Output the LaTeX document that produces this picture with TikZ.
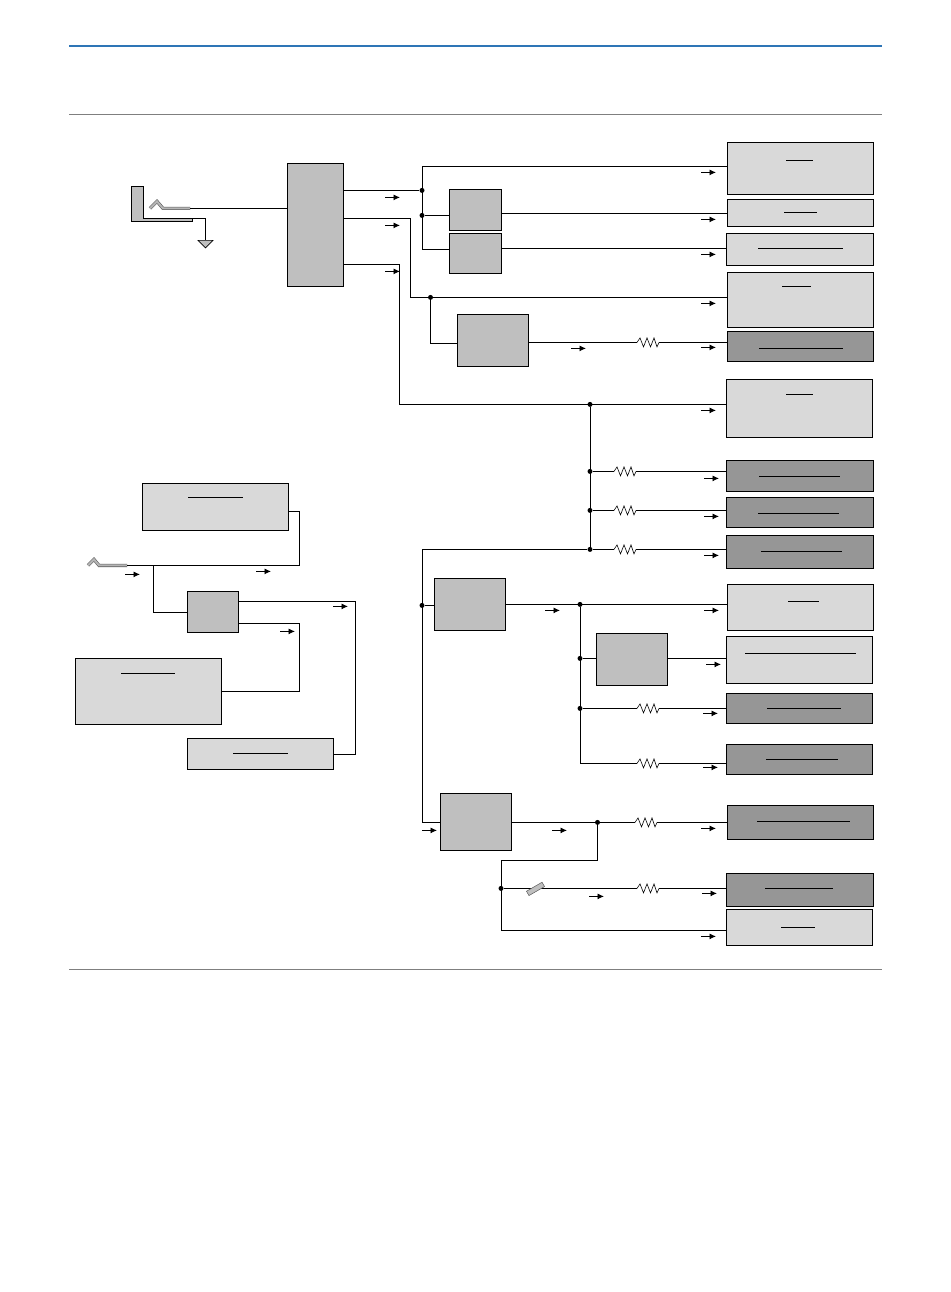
\documentclass[tikz,border=0pt]{standalone}
\usepackage{xcolor}
\usetikzlibrary{arrows.meta, calc}
\definecolor{softlight}{HTML}{D9D9D9}
\definecolor{softmid}{HTML}{BFBFBF}
\definecolor{softdark}{HTML}{969696}
\definecolor{headblue}{HTML}{2E75B6}
\definecolor{rulegray}{HTML}{7F7F7F}

\begin{document}
\begin{tikzpicture}[
  x=1pt, y=-1pt,
  lightbox/.style={draw=black, fill=softlight, line width=1pt, inner sep=0pt, outer sep=0pt},
  midbox/.style={draw=black, fill=softmid, line width=1pt, inner sep=0pt, outer sep=0pt},
  darkbox/.style={draw=black, fill=softdark, line width=1pt, inner sep=0pt, outer sep=0pt},
  wire/.style={draw=black, line width=1pt},
  redact/.style={draw=black, line width=0.9pt},
  flow/.style={-{Latex[length=6.5pt,width=6pt]}, black, line width=0.9pt},
  junction/.style={circle, fill=black, inner sep=0pt, minimum size=5pt},
  lead/.style={draw=softdark!60!black, double=softdark!70!white, double distance=2pt, line width=0.6pt, line join=miter},
  res/.pic={
    \draw[black, line width=0.6pt] (-11,0) -- (-8,-4.5) -- (-4.5,4.5) -- (-1,-4.5) -- (2.5,4.5) -- (6,-4.5) -- (9,4.5) -- (11,0);
    \coordinate (-w) at (-11,0);
    \coordinate (-e) at (11,0);
  }
]
\useasboundingbox (0,-0.4) rectangle (950,1291.6);

% header and frame lines
\draw[headblue, line width=2pt] (69,46) -- (882,46);
\draw[rulegray, line width=1pt] (69,114) -- (882,114);
\draw[rulegray, line width=1pt] (69,969) -- (882,969);

% load boxes
\node[lightbox, minimum width=146pt, minimum height=52pt] (load1) at (800,168) {};
\node[lightbox, minimum width=146pt, minimum height=27pt] (load2) at (800,212.5) {};
\node[lightbox, minimum width=147pt, minimum height=32pt] (load3) at (799.5,249) {};
\node[lightbox, minimum width=146pt, minimum height=55pt] (load4) at (800,299.5) {};
\node[darkbox, minimum width=146pt, minimum height=30pt] (load5) at (800,346) {};
\node[lightbox, minimum width=146pt, minimum height=58pt] (load6) at (799,408) {};
\node[darkbox, minimum width=147pt, minimum height=31pt] (load7) at (799.5,475.5) {};
\node[darkbox, minimum width=147pt, minimum height=30pt] (load8) at (799.5,512) {};
\node[darkbox, minimum width=147pt, minimum height=33pt] (load9) at (799.5,551.5) {};
\node[lightbox, minimum width=146pt, minimum height=46pt] (load10) at (800,607) {};
\node[lightbox, minimum width=146pt, minimum height=47pt] (load11) at (799,659.5) {};
\node[darkbox, minimum width=146pt, minimum height=30pt] (load12) at (799,708) {};
\node[darkbox, minimum width=146pt, minimum height=30pt] (load13) at (799,759) {};
\node[darkbox, minimum width=146pt, minimum height=34pt] (load14) at (800,822) {};
\node[darkbox, minimum width=147pt, minimum height=33pt] (load15) at (799.5,889.5) {};
\node[lightbox, minimum width=146pt, minimum height=36pt] (load16) at (799,927) {};

% supply boxes on the left
\node[lightbox, minimum width=146pt, minimum height=47pt] (cell) at (215,506.5) {};
\node[lightbox, minimum width=146pt, minimum height=66pt] (panel) at (148,691) {};
\node[lightbox, minimum width=146pt, minimum height=31pt] (spare) at (260,753.5) {};

% regulators
\node[midbox, minimum width=56pt, minimum height=123pt] (main) at (315,224.5) {};
\node[midbox, minimum width=52pt, minimum height=41pt] (rega) at (475,209.5) {};
\node[midbox, minimum width=52pt, minimum height=40pt] (regb) at (475,253) {};
\node[midbox, minimum width=71pt, minimum height=52pt] (regc) at (492.5,340) {};
\node[midbox, minimum width=71pt, minimum height=52pt] (regd) at (469.5,604) {};
\node[midbox, minimum width=71pt, minimum height=52pt] (rege) at (631.5,659) {};
\node[midbox, minimum width=71pt, minimum height=57pt] (regf) at (475.5,821.5) {};
\node[midbox, minimum width=51pt, minimum height=41pt] (charger) at (212.5,611.5) {};

% bars inside the boxes
\draw[redact] (786,160) -- (813,160);
\draw[redact] (784,212) -- (817,212);
\draw[redact] (758,248) -- (843,248);
\draw[redact] (782,286) -- (811,286);
\draw[redact] (759,348) -- (843,348);
\draw[redact] (786,394) -- (813,394);
\draw[redact] (759,476) -- (840,476);
\draw[redact] (758,513) -- (839,513);
\draw[redact] (761,551) -- (842,551);
\draw[redact] (788,601) -- (819,601);
\draw[redact] (745,653) -- (856,653);
\draw[redact] (767,708) -- (841,708);
\draw[redact] (766,759) -- (838,759);
\draw[redact] (757,821) -- (850,821);
\draw[redact] (765,888) -- (833,888);
\draw[redact] (781,927) -- (815,927);
\draw[redact] (188,497) -- (243,497);
\draw[redact] (121,673) -- (175,673);
\draw[redact] (233,753) -- (288,753);

% junctions
\node[junction] (j1) at (422,190) {};
\node[junction] (j2) at (422,215) {};
\node[junction] (j3) at (430.5,297) {};
\node[junction] (j4) at (590,404) {};
\node[junction] (j5) at (590,471) {};
\node[junction] (j6) at (590,510) {};
\node[junction] (j7) at (590,549) {};
\node[junction] (j8) at (422,605) {};
\node[junction] (j9) at (580,604) {};
\node[junction] (j10) at (580,658) {};
\node[junction] (j11) at (580,708) {};
\node[junction] (j12) at (597.5,822) {};
\node[junction] (j13) at (501,888) {};

% resistors
\pic (r1) at (625,471) {res};
\pic (r2) at (625,510) {res};
\pic (r3) at (625,549) {res};
\pic (r4) at (648,342) {res};
\pic (r5) at (648,708) {res};
\pic (r6) at (648,763) {res};
\pic (r7) at (646,822) {res};
\pic (r8) at (648,888) {res};

% switch
\coordinate (swa) at (524,888);
\coordinate (swb) at (547,888);

% bend points
\coordinate (b1) at (422,166);
\coordinate (b2) at (422,249);
\coordinate (b3) at (410.5,297);
\coordinate (b4) at (430.5,343);
\coordinate (b5) at (399.6,404);
\coordinate (b6) at (422,549);
\coordinate (b7) at (422,822);
\coordinate (b8) at (580,763);
\coordinate (b9) at (597.5,860);
\coordinate (b10) at (501,860);
\coordinate (b11) at (501,930);
\coordinate (b12) at (153,565);
\coordinate (b13) at (153,612);
\coordinate (b14) at (299,565);
\coordinate (b15) at (299,511);
\coordinate (b16) at (355,601);
\coordinate (b17) at (355,754);
\coordinate (b18) at (299,623);
\coordinate (b19) at (299,691);

% sources
\coordinate (tipa) at (190,208);
\coordinate (tipb) at (127,565);
\coordinate (earth) at (205.5,240);
\coordinate (bracket) at (192,218);
\draw[midbox] (131,186) -- (143,186) -- (143,218) -- (192,218) -- (192,221) -- (131,221) -- cycle;
\draw[lead] (tipa) -- ++(-27,0) -- ++(-6,-7) -- ++(-7,7);
\draw[lead] (tipb) -- ++(-28,0) -- ++(-5,-6) -- ++(-6,6);
\draw[fill=softmid, line width=0.6pt] (earth) ++(-7.5,0) -- ++(15,0) -- ++(-7.5,7.5) -- cycle;

% main wires
\draw[wire] (tipa) -- (main.west |- tipa);
\draw[wire] (bracket) -| (earth);
\draw[wire] (main.east |- j1) -- (j1);
\draw[wire] (load1.west |- b1) -- (b1) -- (b2) -- (regb.west |- b2);
\draw[wire] (j2) -- (rega.west |- j2);
\draw[wire] (rega.east |- 0,213) -- (load2.west |- 0,213);
\draw[wire] (regb.east |- 0,248) -- (load3.west |- 0,248);
\draw[wire] (main.east |- 0,218) -| (b3) -- (load4.west |- b3);
\draw[wire] (j3) -- (b4) -- (regc.west |- b4);
\draw[wire] (regc.east |- r4-w) -- (r4-w);
\draw[wire] (r4-e) -- (load5.west |- r4-e);
\draw[wire] (main.east |- 0,264) -| (b5) -- (load6.west |- b5);
\draw[wire] (j4) -- (j7);
\draw[wire] (j5) -- (r1-w);
\draw[wire] (r1-e) -- (load7.west |- r1-e);
\draw[wire] (j6) -- (r2-w);
\draw[wire] (r2-e) -- (load8.west |- r2-e);
\draw[wire] (j7) -- (r3-w);
\draw[wire] (r3-e) -- (load9.west |- r3-e);
\draw[wire] (j7) -- (b6) -- (b7) -- (regf.west |- b7);
\draw[wire] (j8) -- (regd.west |- j8);
\draw[wire] (regd.east |- j9) -- (load10.west |- j9);
\draw[wire] (j9) -- (b8) -- (r6-w);
\draw[wire] (r6-e) -- (load13.west |- r6-e);
\draw[wire] (j10) -- (rege.west |- j10);
\draw[wire] (rege.east |- j10) -- (load11.west |- j10);
\draw[wire] (j11) -- (r5-w);
\draw[wire] (r5-e) -- (load12.west |- r5-e);
\draw[wire] (regf.east |- r7-w) -- (r7-w);
\draw[wire] (r7-e) -- (load14.west |- r7-e);
\draw[wire] (j12) -- (b9) -- (b10) -- (b11) -- (load16.west |- b11);
\draw[wire] (j13) -- (r8-w);
\draw[wire] (r8-e) -- (load15.west |- r8-e);
\draw[wire, line width=1.4pt] (swa) -- (swb);
\draw[fill=softmid, draw=softdark!60!black, line width=0.5pt, rotate around={30:(535.5,888.5)}] (526.5,886) rectangle (544.5,891);

% left wires
\draw[wire] (tipb) -- (b14) -- (b15) -- (cell.east |- b15);
\draw[wire] (b12) -- (b13) -- (charger.west |- b13);
\draw[wire] (charger.east |- b16) -- (b16) -- (b17) -- (spare.east |- b17);
\draw[wire] (charger.east |- b18) -- (b18) -- (b19) -- (panel.east |- b19);

% flow arrows
\foreach \x/\y in {385/197, 385/225, 385/271, 701/172, 701/219, 701/254, 701/303, 701/347, 701/410, 704/478, 704/516, 704/555, 704/610, 706/664, 703/713, 703/767, 701/828, 702/893, 701/936, 571/348, 545/610, 552/830, 589/896, 422/830, 125/574, 256/571, 333/606, 280/631}
  \draw[flow] (\x,\y) -- ++(15,0);
\end{tikzpicture}
\end{document}
